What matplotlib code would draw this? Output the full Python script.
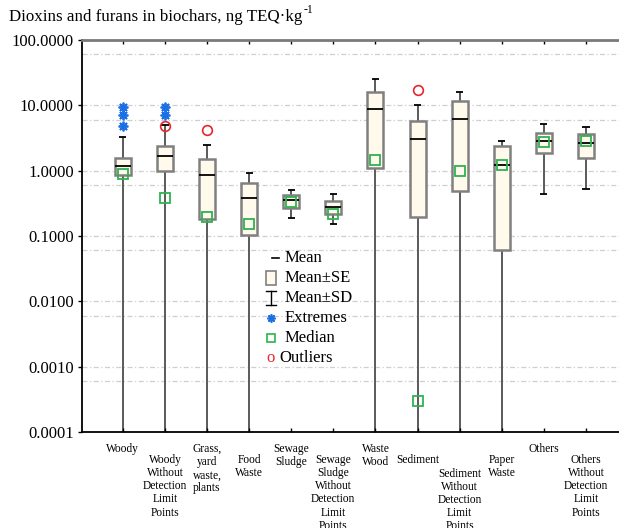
"""Dioxins and furans in biochars: mean / SE / SD box chart on a log axis."""
import numpy as np
import matplotlib
matplotlib.use("Agg")
import matplotlib.pyplot as plt
from matplotlib.lines import Line2D
from matplotlib.patches import Rectangle
from matplotlib.transforms import offset_copy

plt.rcParams["font.family"] = ["Liberation Serif", "DejaVu Serif"]

categories = [
    "Woody", "Woody\nWithout\nDetection\nLimit\nPoints", "Grass,\nyard\nwaste,\nplants",
    "Food\nWaste", "Sewage\nSludge", "Sewage\nSludge\nWithout\nDetection\nLimit\nPoints",
    "Waste\nWood", "Sediment", "Sediment\nWithout\nDetection\nLimit\nPoints",
    "Paper\nWaste", "Others", "Others\nWithout\nDetection\nLimit\nPoints",
]
mean = [1.18, 1.68, 0.85, 0.385, 0.35, 0.28, 8.7, 3.05, 6.1, 1.22, 2.81, 2.62]
se_hi = [1.55, 2.36, 1.52, 0.65, 0.42, 0.34, 16.2, 5.8, 11.8, 2.36, 3.81, 3.68]
se_lo = [0.85, 0.99, 0.18, 0.103, 0.268, 0.217, 1.10, 0.195, 0.49, 0.060, 1.84, 1.56]
sd_hi = [3.24, 5.0, 2.5, 0.93, 0.51, 0.44, 25.6, 10.1, 15.8, 2.88, 5.24, 4.71]
# nan = mean - SD below zero, whisker runs off the bottom of the log axis
sd_lo = [np.nan, np.nan, np.nan, np.nan, 0.188, 0.15, np.nan, np.nan, np.nan, np.nan, 0.435, 0.52]
median = [0.90, 0.386, 0.195, 0.154, 0.335, 0.22, 1.47, 0.0003, 1.0, 1.22, 2.79, 2.81]
outliers = {1: [4.9], 2: [4.2], 7: [17.3]}
extremes = {0: [9.5, 7.1, 4.9], 1: [9.5, 7.1]}
yticks = [0.0001, 0.001, 0.01, 0.1, 1, 10, 100]

label_row = [0, 1, 0, 1, 0, 1, 0, 1, 2, 1, 0, 1]  # staggering of the category labels
row_offset = [-8, -16, -26]  # points below the axis for each row

BOX_FILL, BOX_EDGE = "#fffaec", "#808080"
GREEN, BLUE, RED = "#2db34f", "#1a6ee6", "#e8242c"
ASTER = (8, 2, 0)

fig = plt.figure(figsize=(6.19, 5.28), dpi=100)
ax = fig.add_axes([82 / 619, 96 / 528, 544.8 / 619, 392 / 528])
ax.set_yscale("log")
ax.set_ylim(0.0001, 100)
ax.set_xlim(0.03, 12.97)
ymin = ax.get_ylim()[0]

# doubled dash-dot grid, as the source program draws it
for k in range(-4, 3):
    for v in (10.0 ** k, 0.6 * 10.0 ** k):
        if ymin < v < 100:
            ax.axhline(v, color="#cfcfcf", lw=0.9, ls=(0, (4, 2, 1, 2)), zorder=0)

x = np.arange(1, len(categories) + 1)
w, cw = 0.38, 0.17
for i, xi in enumerate(x):
    lo = sd_lo[i] if not np.isnan(sd_lo[i]) else ymin
    ax.vlines(xi, lo, sd_hi[i], color="#5a5a5a", lw=1.4, zorder=1)
    ax.hlines(sd_hi[i], xi - cw / 2, xi + cw / 2, color="black", lw=1.3, zorder=1)
    if not np.isnan(sd_lo[i]):
        ax.hlines(sd_lo[i], xi - cw / 2, xi + cw / 2, color="black", lw=1.3, zorder=1)
    ax.bar(xi, se_hi[i] - se_lo[i], bottom=se_lo[i], width=w, color=BOX_FILL,
           edgecolor=BOX_EDGE, linewidth=1.8, zorder=2)
    ax.hlines(mean[i], xi - w / 2, xi + w / 2, color="black", lw=1.3, zorder=3)
for i, vals in extremes.items():
    ax.plot([x[i]] * len(vals), vals, ls="none", marker=ASTER, ms=7, mew=1.3,
            color=BLUE, zorder=4)
for i, vals in outliers.items():
    ax.plot([x[i]] * len(vals), vals, ls="none", marker="o", ms=7, mfc="none",
            mec=RED, mew=1.2, zorder=4)
ax.plot(x, median, ls="none", marker="s", ms=7, mfc="none", mec=GREEN, mew=1.3, zorder=5)

ax.set_yticks(yticks)
ax.set_yticklabels([f"{v:.4f}" for v in yticks])
ax.yaxis.set_minor_locator(matplotlib.ticker.NullLocator())
ax.tick_params(axis="y", direction="out", length=3, width=1, labelsize=12, pad=3)
ax.set_xticks(x)
ax.set_xticklabels([])
ax.tick_params(axis="x", direction="in", length=3, width=1, top=True, bottom=True)
for s in ("left", "bottom"):
    ax.spines[s].set_linewidth(1.3)
ax.spines["top"].set_color("#7a7a7a")
ax.spines["top"].set_linewidth(2)
ax.spines["right"].set_visible(False)

for xi, lab, r in zip(x, categories, label_row):
    ax.annotate(lab, (xi, 0), xycoords=("data", "axes fraction"),
                xytext=(0, row_offset[r]), textcoords="offset points",
                ha="center", va="top", fontsize=8.3, linespacing=1.12)

# legend drawn by hand, the handles are not standard ones
lx, tx, ly, dy = 0.346, 0.371, 0.444, 0.051
tr = ax.transAxes
ax.add_line(Line2D([lx + 0.002, lx + 0.016], [ly, ly], transform=tr, color="black", lw=1.2))
ax.add_patch(Rectangle((lx - 0.009, ly - dy - 0.017), 0.02, 0.034, transform=tr,
                       facecolor=BOX_FILL, edgecolor=BOX_EDGE, lw=1.2))
y2 = ly - 2 * dy
ax.add_line(Line2D([lx + 0.001, lx + 0.001], [y2 - 0.017, y2 + 0.017], transform=tr,
                   color="black", lw=1))
ax.add_line(Line2D([lx - 0.009, lx + 0.011], [y2 + 0.017, y2 + 0.017], transform=tr,
                   color="black", lw=1))
ax.add_line(Line2D([lx - 0.009, lx + 0.011], [y2 - 0.017, y2 - 0.017], transform=tr,
                   color="black", lw=1))
ax.plot([lx], [ly - 3 * dy], transform=tr, marker=ASTER, ms=6, mew=1.2, color=BLUE)
ax.plot([lx], [ly - 4 * dy], transform=tr, marker="s", ms=6, mfc="none", mec=GREEN, mew=1.2)
ax.text(lx, ly - 5 * dy, "o", transform=tr, color=RED, fontsize=12, ha="center", va="center")
for j, t in enumerate(["Mean", "Mean±SE", "Mean±SD", "Extremes", "Median"]):
    ax.text(tx, ly - j * dy, t, transform=tr, fontsize=12, va="center")
ax.text(tx - 0.008, ly - 5 * dy, "Outliers", transform=tr, fontsize=12, va="center")

title = fig.text(9 / 619, 1 - 17 / 528, "Dioxins and furans in biochars, ng TEQ·kg",
                 fontsize=12.2, va="center", ha="left")
fig.canvas.draw()
bb = title.get_window_extent()
fig.text(bb.x1 / fig.bbox.width, 1 - 17 / 528,
         "-1", fontsize=8.5, va="bottom", ha="left",
         transform=offset_copy(fig.transFigure, fig=fig, x=0.5, y=0.5, units="points"))

fig.savefig("out.png", dpi=100)
